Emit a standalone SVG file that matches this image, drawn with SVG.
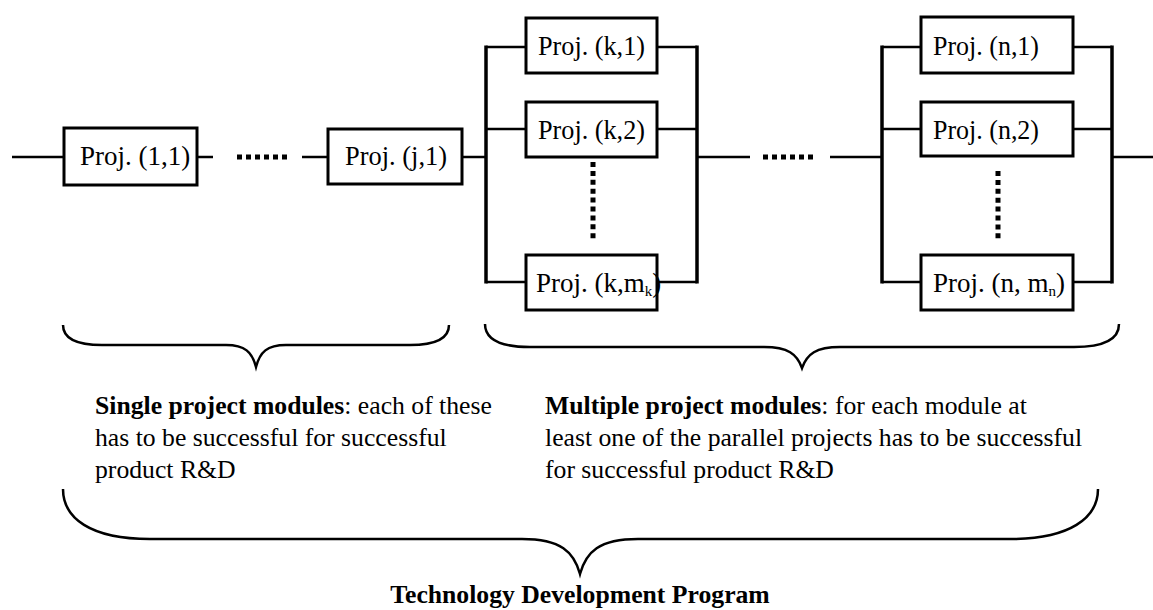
<svg xmlns="http://www.w3.org/2000/svg" width="1153" height="610" viewBox="0 0 1153 610">
  <style>
    .box { fill: #fff; stroke: #000; stroke-width: 3; }
    .lbl { font-family: "Liberation Serif", "Times New Roman", serif; font-size: 27px; fill: #000; }
    .sub { font-size: 15px; }
    .wire { stroke: #000; stroke-width: 2.5; fill: none; }
    .bus { stroke: #000; stroke-width: 3.5; fill: none; }
    .dotsH { stroke: #000; stroke-width: 5; stroke-dasharray: 5 4; fill: none; }
    .dotsV { stroke: #000; stroke-width: 5; stroke-dasharray: 5 3.9; fill: none; }
    .brace { stroke: #000; stroke-width: 2.5; fill: none; }
    .note { font-family: "Liberation Serif", "Times New Roman", serif; font-size: 25.7px; fill: #000; }
    .b { font-weight: bold; }
  </style>
  <rect width="1153" height="610" fill="#fff"/>

  <!-- series and parallel wiring -->
  <g id="connectors">
    <line class="wire" x1="12" y1="157" x2="64" y2="157"/>
    <line class="wire" x1="197" y1="157" x2="213" y2="157"/>
    <line class="dotsH" x1="237" y1="157" x2="288" y2="157"/>
    <line class="wire" x1="302" y1="157" x2="328" y2="157"/>
    <line class="wire" x1="462" y1="157" x2="486" y2="157"/>
    <!-- module k -->
    <line class="bus" x1="486" y1="45.5" x2="486" y2="283.5"/>
    <line class="wire" x1="486" y1="47" x2="526" y2="47"/>
    <line class="wire" x1="486" y1="129" x2="526" y2="129"/>
    <line class="wire" x1="486" y1="282" x2="526" y2="282"/>
    <line class="wire" x1="657" y1="47" x2="697" y2="47"/>
    <line class="wire" x1="657" y1="129" x2="697" y2="129"/>
    <line class="wire" x1="657" y1="282" x2="697" y2="282"/>
    <line class="bus" x1="697" y1="45.5" x2="697" y2="283.5"/>
    <line class="dotsV" x1="593" y1="162" x2="593" y2="239"/>
    <!-- between modules -->
    <line class="wire" x1="697" y1="157" x2="750" y2="157"/>
    <line class="dotsH" x1="763" y1="157" x2="814" y2="157"/>
    <line class="wire" x1="830" y1="157" x2="882" y2="157"/>
    <!-- module n -->
    <line class="bus" x1="882" y1="45.5" x2="882" y2="283.5"/>
    <line class="wire" x1="882" y1="47" x2="921" y2="47"/>
    <line class="wire" x1="882" y1="129" x2="921" y2="129"/>
    <line class="wire" x1="882" y1="282" x2="921" y2="282"/>
    <line class="wire" x1="1073" y1="47" x2="1112" y2="47"/>
    <line class="wire" x1="1073" y1="129" x2="1112" y2="129"/>
    <line class="wire" x1="1073" y1="282" x2="1112" y2="282"/>
    <line class="bus" x1="1112" y1="45.5" x2="1112" y2="283.5"/>
    <line class="dotsV" x1="998" y1="171" x2="998" y2="239"/>
    <line class="wire" x1="1112" y1="157" x2="1153" y2="157"/>
  </g>

  <!-- single project modules -->
  <g id="proj-1-1">
    <rect class="box" x="64" y="128" width="133" height="57"/>
    <text class="lbl" x="80" y="165">Proj. (1,1)</text>
  </g>
  <g id="proj-j-1">
    <rect class="box" x="328" y="129" width="134" height="55"/>
    <text class="lbl" x="345" y="165" textLength="102" lengthAdjust="spacingAndGlyphs">Proj. (j,1)</text>
  </g>

  <!-- parallel module k -->
  <g id="proj-k-1">
    <rect class="box" x="526" y="18" width="131" height="55"/>
    <text class="lbl" x="538" y="55" textLength="107" lengthAdjust="spacingAndGlyphs">Proj. (k,1)</text>
  </g>
  <g id="proj-k-2">
    <rect class="box" x="526" y="102" width="131" height="55"/>
    <text class="lbl" x="538" y="139" textLength="107" lengthAdjust="spacingAndGlyphs">Proj. (k,2)</text>
  </g>
  <g id="proj-k-mk">
    <rect class="box" x="526" y="255" width="131" height="55"/>
    <text class="lbl" x="536" y="292" font-size="26">Proj. (k,m<tspan class="sub" font-size="14" dy="4">k</tspan><tspan dy="-4">)</tspan></text>
  </g>

  <!-- parallel module n -->
  <g id="proj-n-1">
    <rect class="box" x="921" y="17" width="152" height="56"/>
    <text class="lbl" x="933" y="55" textLength="106" lengthAdjust="spacingAndGlyphs">Proj. (n,1)</text>
  </g>
  <g id="proj-n-2">
    <rect class="box" x="921" y="102" width="152" height="54"/>
    <text class="lbl" x="933" y="139" textLength="106" lengthAdjust="spacingAndGlyphs">Proj. (n,2)</text>
  </g>
  <g id="proj-n-mn">
    <rect class="box" x="921" y="255" width="152" height="55"/>
    <text class="lbl" x="933" y="292">Proj. (n, m<tspan class="sub" dy="4">n</tspan><tspan dy="-4">)</tspan></text>
  </g>

  <!-- grouping braces -->
  <g id="brace-single">
    <path class="brace" d="M63,325 C63,339 76,345 102,345 L226,345 C245,345 252,352 256,367 C260,352 267,345 286,345 L410,345 C436,345 449,339 449,325"/>
  </g>
  <g id="brace-multiple">
    <path class="brace" d="M485,324 C485,339 499,347 530,347 L764,347 C788,347 797,354 802,368 C807,354 816,347 840,347 L1074,347 C1105,347 1119,339 1119,324"/>
  </g>
  <g id="brace-program">
    <path class="brace" d="M63,489 C63,518 90,539 150,539 L522,539 C561,539 574,552 580,574 C586,552 599,539 638,539 L1010,539 C1070,539 1098,518 1098,489"/>
  </g>

  <!-- captions -->
  <g id="caption-single">
    <text class="note" x="95" y="414"><tspan class="b">Single project modules</tspan>: each of these</text>
    <text class="note" x="95" y="446">has to be successful for successful</text>
    <text class="note" x="95" y="478">product R&amp;D</text>
  </g>
  <g id="caption-multiple">
    <text class="note" x="545" y="414"><tspan class="b">Multiple project modules</tspan>: for each module at</text>
    <text class="note" x="545" y="446">least one of the parallel projects has to be successful</text>
    <text class="note" x="545" y="478">for successful product R&amp;D</text>
  </g>
  <g id="caption-program">
    <text class="note b" x="580" y="603" text-anchor="middle">Technology Development Program</text>
  </g>
</svg>
